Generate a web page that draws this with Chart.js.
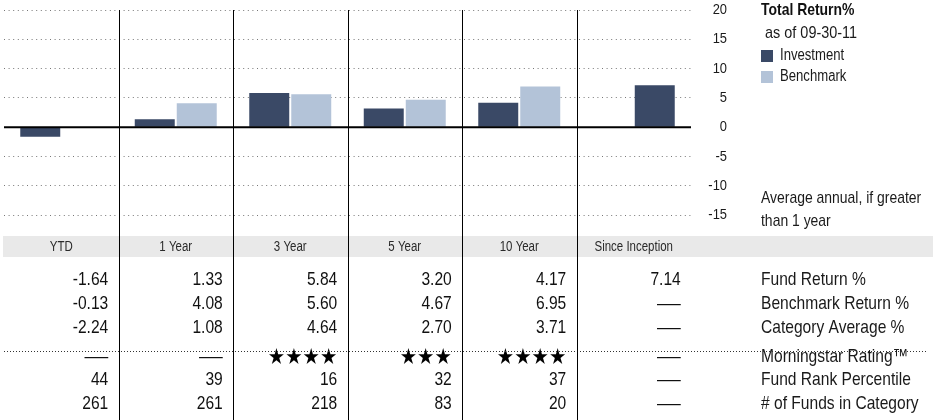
<!DOCTYPE html>
<html>
<head>
<meta charset="utf-8">
<script src="https://cdn.jsdelivr.net/npm/chart.js@4.4.0/dist/chart.umd.min.js"></script>
<style>
  html, body { margin: 0; padding: 0; background: #fff; }
  #wrap { width: 934px; height: 420px; position: relative; }
</style>
</head>
<body>
<div id="wrap"><canvas id="returns"></canvas></div>
<script>
var periods = ['YTD', '1 Year', '3 Year', '5 Year', '10 Year', 'Since Inception'];
var fundReturn = [-1.64, 1.33, 5.84, 3.20, 4.17, 7.14];
var benchmarkReturn = [-0.13, 4.08, 5.60, 4.67, 6.95, null];
var categoryAverage = [-2.24, 1.08, 4.64, 2.70, 3.71, null];
var ratingStars = [null, null, 4, 3, 4, null];
var rankPercentile = [44, 39, 16, 32, 37, null];
var fundsInCategory = [261, 261, 218, 83, 20, null];
var yTicks = [20, 15, 10, 5, 0, -5, -10, -15];
var rowLabels = ['Fund Return %', 'Benchmark Return %', 'Category Average %',
                 'Morningstar Rating\u2122', 'Fund Rank Percentile', '# of Funds in Category'];

var NAVY = '#3a4966';
var STEEL = '#b3c3d8';
var SANS = "'Liberation Sans', Arial, sans-serif";

// when there is no benchmark figure the fund bar sits in the second slot
var fundPaired = fundReturn.map(function (v, i) { return benchmarkReturn[i] === null ? null : v; });
var fundAlone = fundReturn.map(function (v, i) { return benchmarkReturn[i] === null ? v : null; });

function fmt(v) { return v === null ? '\u2014' : v.toFixed(2); }
function plain(v) { return v === null ? '\u2014' : String(v); }
function stars(n) { return n === null ? '\u2014' : '\u2605\u2605\u2605\u2605\u2605'.slice(0, n); }

var tableRows = [
    fundReturn.map(fmt),
    benchmarkReturn.map(fmt),
    categoryAverage.map(fmt),
    ratingStars.map(stars),
    rankPercentile.map(plain),
    fundsInCategory.map(plain)
];
var rowY = [280, 304, 327.5, 357, 380, 403.5];

// narrow text: regular sans squeezed horizontally around its anchor
function say(ctx, text, x, y, size, align, opts) {
    opts = opts || {};
    ctx.save();
    ctx.font = (opts.weight || 'normal') + ' ' + size + 'px ' + (opts.family || SANS);
    ctx.textAlign = align;
    ctx.textBaseline = 'middle';
    ctx.fillStyle = opts.color || '#1a1a1a';
    ctx.translate(x, y);
    ctx.scale(opts.sx || 0.82, 1);
    ctx.fillText(text, 0, 0);
    ctx.restore();
}

var tablePlugin = {
    id: 'tablePlugin',
    afterDatasetsDraw: function (chart) {
        var ctx = chart.ctx;
        var x = chart.scales.x;
        var y = chart.scales.y;
        var area = chart.chartArea;
        var half = (x.getPixelForValue(1) - x.getPixelForValue(0)) / 2;

        ctx.save();
        // header band
        ctx.fillStyle = '#e9e9e9';
        ctx.fillRect(area.left - 1, 236, 934 - area.left, 21);

        periods.forEach(function (p, i) {
            say(ctx, p, x.getPixelForValue(i), 247, 14, 'center', { color: '#2a2a2a' });
        });

        // values, right aligned inside each column
        tableRows.forEach(function (row, r) {
            row.forEach(function (txt, i) {
                var px = x.getPixelForValue(i) + 47;
                if (txt.charAt(0) === '\u2605') {
                    say(ctx, txt, px, rowY[r] + 1, 22, 'right',
                        { family: "'DejaVu Sans', sans-serif", sx: 0.88, color: '#000' });
                } else if (txt === '\u2014') {
                    say(ctx, txt, px, rowY[r], 19, 'right', { sx: 1.25, color: '#111' });
                } else {
                    say(ctx, txt, px, rowY[r], 19, 'right', { color: '#111' });
                }
            });
            say(ctx, rowLabels[r], 761, rowY[r], 19, 'left');
        });

        // dotted rule between returns and ratings
        ctx.strokeStyle = '#333';
        ctx.lineWidth = 1;
        ctx.setLineDash([1, 2]);
        ctx.beginPath();
        ctx.moveTo(area.left, 351.5);
        ctx.lineTo(927, 351.5);
        ctx.stroke();
        ctx.setLineDash([]);

        // column dividers
        ctx.strokeStyle = '#000';
        ctx.lineWidth = 1;
        for (var i = 0; i < periods.length - 1; i++) {
            var bx = Math.round(x.getPixelForValue(i) + half) + 0.5;
            ctx.beginPath();
            ctx.moveTo(bx, area.top);
            ctx.lineTo(bx, 420);
            ctx.stroke();
        }

        // zero line
        var zy = y.getPixelForValue(0);
        ctx.lineWidth = 2;
        ctx.beginPath();
        ctx.moveTo(area.left, zy);
        ctx.lineTo(area.right, zy);
        ctx.stroke();

        // value axis labels
        y.ticks.forEach(function (t) {
            say(ctx, String(t.value), 727, y.getPixelForValue(t.value), 15, 'right', { sx: 0.86 });
        });
        ctx.restore();
    },
    afterDraw: function (chart) {
        var ctx = chart.ctx;
        say(ctx, 'Total Return%', 761, 10, 17, 'left', { weight: 'bold', color: '#111' });
        say(ctx, 'as of 09-30-11', 765, 33, 17, 'left', { sx: 0.85 });

        var keys = [['Investment', NAVY, 56], ['Benchmark', STEEL, 77]];
        keys.forEach(function (k) {
            ctx.fillStyle = k[1];
            ctx.fillRect(761, k[2] - 6, 12, 12);
            say(ctx, k[0], 780, k[2], 16, 'left');
        });

        say(ctx, 'Average annual, if greater', 761, 198, 17, 'left');
        say(ctx, 'than 1 year', 761, 221, 17, 'left');
    }
};

var ctx = document.getElementById('returns').getContext('2d');
var chart = new Chart(ctx, {
    type: 'bar',
    data: {
        labels: periods,
        datasets: [{
            label: 'Investment',
            data: fundPaired,
            stack: 'fund',
            backgroundColor: NAVY
        }, {
            label: 'Benchmark',
            data: benchmarkReturn,
            stack: 'bench',
            backgroundColor: STEEL
        }, {
            label: 'Investment',
            data: fundAlone,
            stack: 'bench',
            backgroundColor: NAVY
        }]
    },
    options: {
        responsive: true,
        maintainAspectRatio: false,
        animation: false,
        layout: {
            padding: { left: 4, top: 10, right: 207, bottom: 205 }
        },
        datasets: {
            bar: {
                categoryPercentage: 0.7336,
                barPercentage: 0.952,
                borderWidth: 0
            }
        },
        plugins: {
            legend: { display: false },
            tooltip: { enabled: false }
        },
        scales: {
            x: {
                display: false
            },
            y: {
                position: 'right',
                min: -15,
                max: 20,
                stacked: false,
                afterBuildTicks: function (axis) {
                    axis.ticks = yTicks.map(function (v) { return { value: v }; });
                },
                afterFit: function (axis) {
                    axis.width = 36;
                },
                grid: {
                    color: '#777',
                    lineWidth: 1,
                    drawTicks: false
                },
                border: {
                    display: false,
                    dash: [1, 3.6]
                },
                ticks: {
                    display: false
                }
            }
        }
    },
    plugins: [tablePlugin]
});
</script>
</body>
</html>
